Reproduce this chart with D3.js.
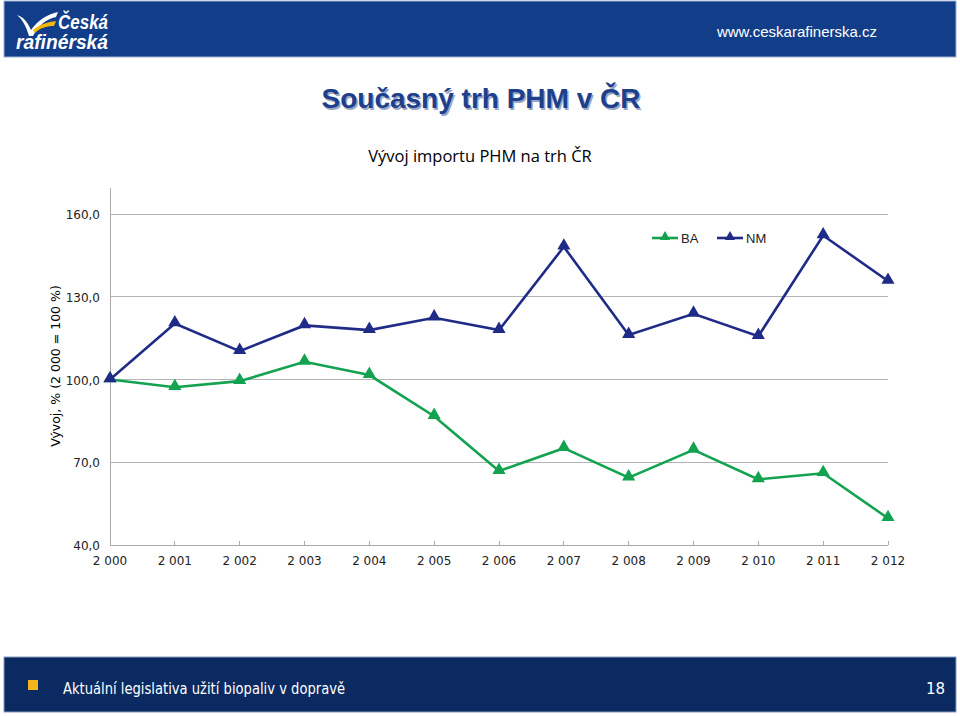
<!DOCTYPE html>
<html><head><meta charset="utf-8">
<script src="https://cdn.jsdelivr.net/npm/d3@7"></script>
<style>body{margin:0;background:#fff}svg{display:block}</style>
</head><body>
<svg id="c" width="960" height="716"></svg>
<script>
const years = ["2000","2001","2002","2003","2004","2005","2006","2007","2008","2009","2010","2011","2012"];
const yearLabels = ["2 000","2 001","2 002","2 003","2 004","2 005","2 006","2 007","2 008","2 009","2 010","2 011","2 012"];
const BA = [100,97.2,99.4,106.4,101.6,86.7,66.8,75.1,64.4,74.5,63.8,66.0,49.7];
const NM = [100,120.3,110.3,119.6,117.9,122.4,117.9,148.1,116.1,123.8,115.7,152.2,135.7];
const yTicks = [40,70,100,130,160];
const seriesNames = ["BA","NM"];
const seriesColors = ["#13a24f","#1f2b87"];

const svg = d3.select("#c");

// header
svg.append("rect").attr("x",4).attr("y",1).attr("width",952).attr("height",56).attr("fill","#123e89").attr("stroke","#9fb0cf").attr("stroke-width",1);
const lg = svg.append("g");
lg.append("path").attr("d","M17,15 C24,17 28,23 31,30 C38,20 48,14 58,12 L56,17 C46,19 38,26 33,36 L29,36 C26,26 22,19 17,15 Z").attr("fill","#ffffff");
lg.append("path").attr("d","M33,30 C40,24 48,22 56,21 L54,26 C46,26 40,28 35,33 Z").attr("fill","#f5b800");
lg.append("text").attr("x",58).attr("y",29).attr("fill","#fff").attr("font-family","Liberation Sans, Arial").attr("font-weight","bold").attr("font-style","italic").attr("font-size",20).attr("textLength",50).attr("lengthAdjust","spacingAndGlyphs").text("Česká");
lg.append("text").attr("x",16).attr("y",49).attr("fill","#fff").attr("font-family","Liberation Sans, Arial").attr("font-weight","bold").attr("font-style","italic").attr("font-size",20).attr("textLength",92).attr("lengthAdjust","spacingAndGlyphs").text("rafinérská");
svg.append("text").attr("x",877).attr("y",37).attr("text-anchor","end").attr("fill","#fff").attr("font-family","Liberation Sans, Arial").attr("font-size",15).text("www.ceskarafinerska.cz");

// title
svg.append("text").attr("x",481).attr("y",108).attr("text-anchor","middle").attr("fill","#9aa6c4").attr("font-family","Liberation Sans, Arial").attr("font-weight","bold").attr("font-size",28).attr("dx",1.5).attr("dy",1.5).text("Současný trh PHM v ČR");
svg.append("text").attr("x",481).attr("y",108).attr("text-anchor","middle").attr("fill","#1d3f8c").attr("font-family","Liberation Sans, Arial").attr("font-weight","bold").attr("font-size",28).text("Současný trh PHM v ČR");
svg.append("text").attr("x",480).attr("y",162).attr("text-anchor","middle").attr("fill","#000").attr("font-family","Open Sans, Liberation Sans").attr("font-size",16.5).text("Vývoj importu PHM na trh ČR");

// chart
const x = d3.scalePoint().domain(years).range([110,888]);
const y = d3.scaleLinear().domain([40,160]).range([545,214]);

svg.append("g").selectAll("line").data(yTicks.slice(1)).join("line")
  .attr("x1",110).attr("x2",888).attr("y1",d=>y(d)).attr("y2",d=>y(d))
  .attr("stroke","#b5b5b5").attr("stroke-width",1).attr("shape-rendering","crispEdges");

svg.append("line").attr("x1",110).attr("x2",110).attr("y1",188).attr("y2",545).attr("stroke","#aaa").attr("shape-rendering","crispEdges");
svg.append("line").attr("x1",110).attr("x2",888).attr("y1",545).attr("y2",545).attr("stroke","#aaa").attr("shape-rendering","crispEdges");
svg.append("g").selectAll("line").data(years.slice(1)).join("line")
  .attr("x1",d=>x(d)).attr("x2",d=>x(d)).attr("y1",541).attr("y2",545)
  .attr("stroke","#aaa").attr("shape-rendering","crispEdges");

svg.append("g").selectAll("text").data(yTicks).join("text")
  .attr("x",100).attr("y",d=>y(d)+5).attr("text-anchor","end")
  .attr("font-family","DejaVu Sans, Verdana").attr("font-size",12).attr("fill","#222").text(d=>d.toFixed(1).replace(".",","));
svg.append("g").selectAll("text").data(years).join("text")
  .attr("x",d=>x(d)).attr("y",565).attr("text-anchor","middle")
  .attr("font-family","DejaVu Sans, Verdana").attr("font-size",12).attr("fill","#222").text((d,i)=>yearLabels[i]);

svg.append("text").attr("transform","translate(60,366) rotate(-90)").attr("text-anchor","middle")
  .attr("font-family","DejaVu Sans, Verdana").attr("font-size",12.5).attr("fill","#000").text("Vývoj, % (2 000 = 100 %)");

const tri = d3.symbol().type(d3.symbolTriangle).size(75);
[BA,NM].forEach((vals,k)=>{
  const col = seriesColors[k];
  svg.append("path").datum(vals).attr("fill","none").attr("stroke",col).attr("stroke-width",2.6)
    .attr("d",d3.line().x((d,i)=>x(years[i])).y(d=>y(d)));
  svg.append("g").selectAll("path").data(vals).join("path")
    .attr("d",tri).attr("fill",col)
    .attr("transform",(d,i)=>`translate(${x(years[i])},${y(d)-1})`);
});

// legend
const legX = [652,717];
seriesNames.forEach((n,k)=>{
  const g = svg.append("g");
  g.append("line").attr("x1",legX[k]).attr("x2",legX[k]+26).attr("y1",238).attr("y2",238).attr("stroke",seriesColors[k]).attr("stroke-width",2.6);
  g.append("path").attr("d",d3.symbol().type(d3.symbolTriangle).size(45)).attr("fill",seriesColors[k]).attr("transform",`translate(${legX[k]+13},237)`);
  g.append("text").attr("x",legX[k]+29).attr("y",243).attr("font-family","Liberation Sans, Arial").attr("font-size",13).attr("fill","#222").text(n);
});

// footer
svg.append("rect").attr("x",4).attr("y",657).attr("width",952).attr("height",55).attr("fill","#0c2a62").attr("stroke","#8a9bbd");
svg.append("rect").attr("x",28).attr("y",680).attr("width",10).attr("height",10).attr("fill","#f2b51c");
svg.append("text").attr("x",63).attr("y",694).attr("fill","#fff").attr("font-family","DejaVu Sans, Verdana").attr("font-size",15.5).attr("textLength",282).attr("lengthAdjust","spacingAndGlyphs").text("Aktuální legislativa užití biopaliv v dopravě");
svg.append("text").attr("x",945).attr("y",694).attr("text-anchor","end").attr("fill","#fff").attr("font-family","DejaVu Sans, Verdana").attr("font-size",15).text("18");
</script>
</body></html>
